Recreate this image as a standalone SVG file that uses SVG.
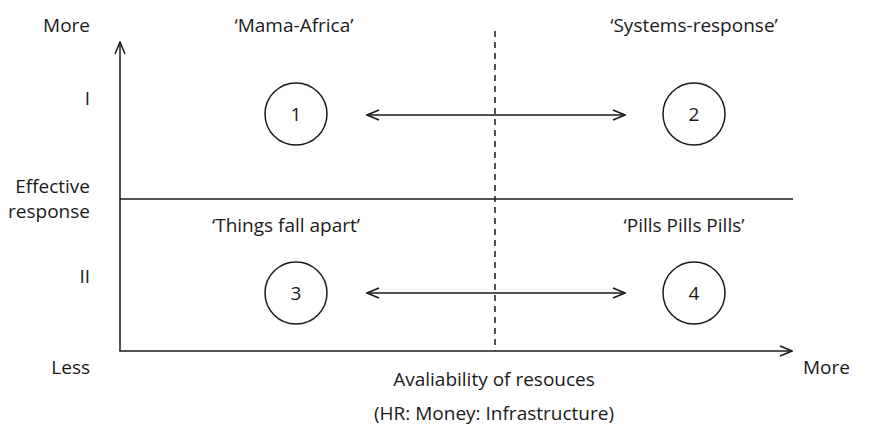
<svg xmlns="http://www.w3.org/2000/svg" width="876" height="429" viewBox="0 0 876 429">
<defs>
<style>
text{font-family:"Open Sans","Noto Sans","Liberation Sans",sans-serif;font-size:19px;fill:#1a1a1a}
.l{stroke:#1a1a1a;stroke-width:1.5;fill:none}
.c{stroke:#1a1a1a;stroke-width:1.5;fill:#fff}
.r{text-anchor:end}
.m{text-anchor:middle}
</style>
<marker id="ah" viewBox="0 0 14 12" refX="13" refY="6" markerWidth="14" markerHeight="12" markerUnits="userSpaceOnUse" orient="auto-start-reverse">
<polyline points="1,1 13,6 1,11" fill="none" stroke="#1a1a1a" stroke-width="1.5"/>
</marker>
</defs>
<rect width="876" height="429" fill="#fff"/>
<g id="axes">
<line class="l" x1="120" y1="351" x2="120" y2="42" marker-end="url(#ah)"/>
<line class="l" x1="119.3" y1="351" x2="792" y2="351" marker-end="url(#ah)"/>
<line class="l" x1="120" y1="199" x2="793" y2="199"/>
<line class="l" x1="495" y1="31" x2="495" y2="351" stroke-dasharray="6,5"/>
</g>
<g id="labels">
<text class="r" x="90" y="32">More</text>
<text class="r" x="90" y="105">I</text>
<text class="r" x="90" y="193">Effective</text>
<text class="r" x="90" y="218">response</text>
<text class="r" x="90" y="283">II</text>
<text class="r" x="90" y="374">Less</text>
<text x="803" y="374">More</text>
<text class="m" x="494" y="386">Avaliability of resouces</text>
<text class="m" x="494" y="420">(HR: Money: Infrastructure)</text>
<text class="m" x="294" y="32">‘Mama-Africa’</text>
<text class="m" x="694" y="32">‘Systems-response’</text>
<text class="m" x="286" y="232">‘Things fall apart’</text>
<text class="m" x="684" y="232">‘Pills Pills Pills’</text>
</g>
<g id="node1"><circle class="c" cx="296" cy="114" r="31"/><text class="m" x="296" y="121">1</text></g>
<g id="node2"><circle class="c" cx="694" cy="114" r="31"/><text class="m" x="694" y="121">2</text></g>
<g id="node3"><circle class="c" cx="296" cy="293" r="31"/><text class="m" x="296" y="300">3</text></g>
<g id="node4"><circle class="c" cx="694" cy="293" r="31"/><text class="m" x="694" y="300">4</text></g>
<g id="connectors">
<line class="l" x1="367" y1="115" x2="625" y2="115" marker-start="url(#ah)" marker-end="url(#ah)"/>
<line class="l" x1="367" y1="293" x2="625" y2="293" marker-start="url(#ah)" marker-end="url(#ah)"/>
</g>
</svg>
